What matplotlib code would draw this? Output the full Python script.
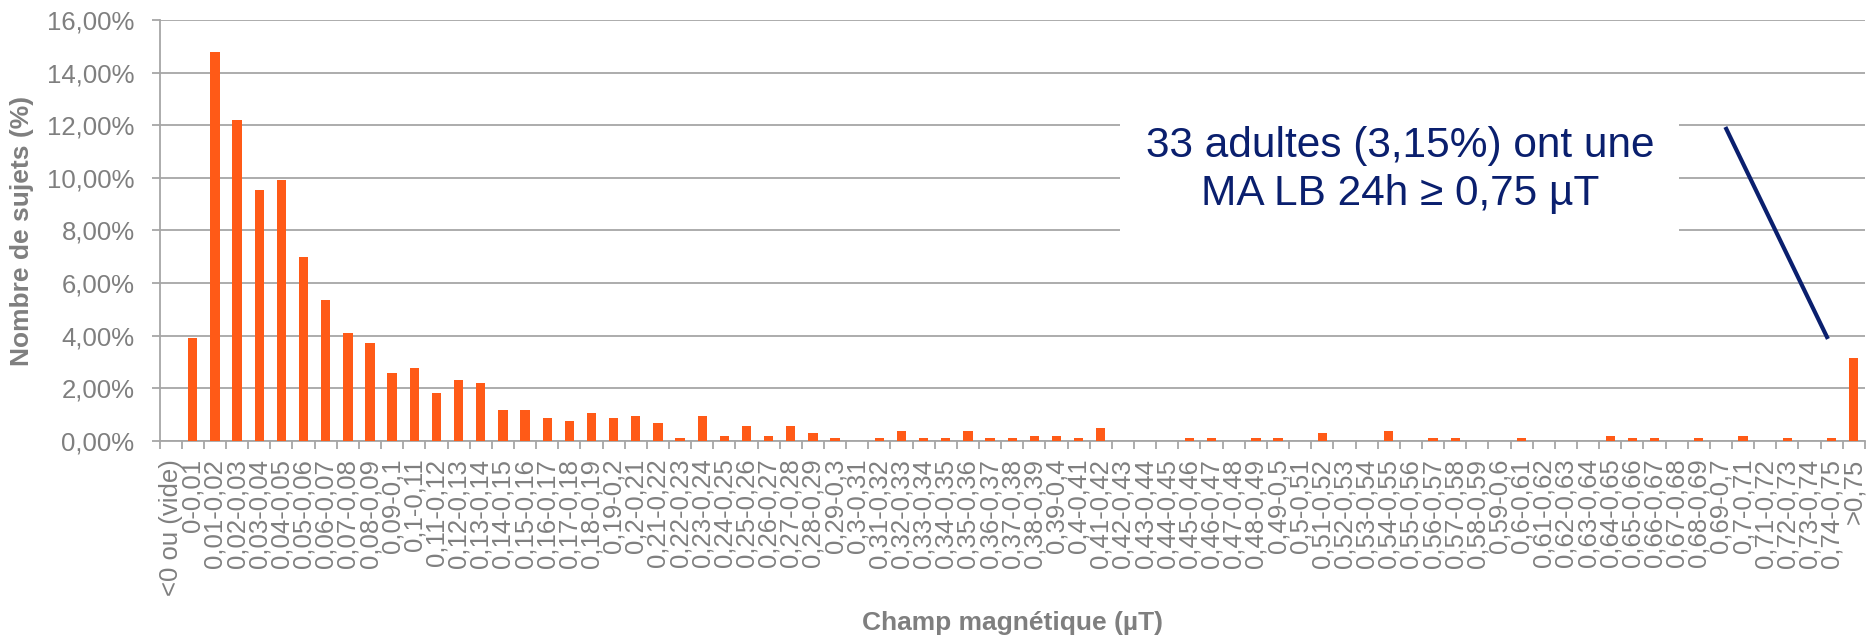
import matplotlib
matplotlib.use("Agg")
import matplotlib.pyplot as plt
from matplotlib.ticker import FuncFormatter, FixedLocator

plt.rcParams['font.family'] = ['Liberation Sans', 'DejaVu Sans']

# categories (µT)
categories = ["<0 ou (vide)", "0-0,01"]
for i in range(1, 75):
    lo = f"{i / 100:g}".replace(".", ",")
    hi = f"{(i + 1) / 100:g}".replace(".", ",")
    categories.append(f"{lo}-{hi}")
categories.append(">0,75")

# share of subjects (%) per category
values = [
    0.00, 3.91, 14.79, 12.21, 9.54, 9.92, 6.97, 5.34, 4.10, 3.72,   # <0 .. 0,08-0,09
    2.58, 2.77, 1.81, 2.29, 2.19, 1.15, 1.15, 0.86, 0.76, 1.05,     # 0,09-0,1 .. 0,18-0,19
    0.86, 0.95, 0.67, 0.10, 0.95, 0.19, 0.57, 0.19, 0.57, 0.29,     # 0,19-0,2 .. 0,28-0,29
    0.10, 0.00, 0.10, 0.38, 0.10, 0.10, 0.38, 0.10, 0.10, 0.19,     # 0,29-0,3 .. 0,38-0,39
    0.19, 0.10, 0.48, 0.00, 0.00, 0.00, 0.10, 0.10, 0.00, 0.10,     # 0,39-0,4 .. 0,48-0,49
    0.10, 0.00, 0.29, 0.00, 0.00, 0.38, 0.00, 0.10, 0.10, 0.00,     # 0,49-0,5 .. 0,58-0,59
    0.00, 0.10, 0.00, 0.00, 0.00, 0.19, 0.10, 0.10, 0.00, 0.10,     # 0,59-0,6 .. 0,68-0,69
    0.00, 0.19, 0.00, 0.10, 0.00, 0.10, 3.15,                       # 0,69-0,7 .. >0,75
]

yticks = [0, 2, 4, 6, 8, 10, 12, 14, 16]

note = "33 adultes (3,15%) ont une\nMA LB 24h \u2265 0,75 \u00b5T"

grey = "#7F7F7F"
line_grey = "#A6A6A6"
bar_color = "#FF5A17"
navy = "#0A1F6E"

fig = plt.figure(figsize=(18.69, 6.37), dpi=100)
ax = fig.add_axes([0.0854, 0.3082, 0.9124, 0.6604])

x = list(range(len(categories)))
ax.bar(x, values, width=0.42, color=bar_color, zorder=3)

ax.set_xlim(-0.5, len(categories) - 0.5)
ax.set_ylim(0, 16)
ax.set_yticks(yticks)
ax.yaxis.set_major_formatter(FuncFormatter(lambda v, p: f"{v:.2f}%".replace(".", ",")))
ax.grid(axis="y", color=line_grey, linewidth=1.3, zorder=0)
ax.set_axisbelow(True)

ax.set_xticks(x)
ax.set_xticklabels(categories, rotation=90, ha="center", va="top")
ax.xaxis.set_minor_locator(FixedLocator([i - 0.5 for i in range(len(categories) + 1)]))
ax.tick_params(axis="x", which="major", length=0, pad=13, labelsize=18.5, labelcolor=grey)
ax.tick_params(axis="x", which="minor", length=6, width=1.3, color=line_grey)
ax.tick_params(axis="y", length=6, width=1.3, color=line_grey, labelsize=18.5, labelcolor=grey, pad=12)

for side in ["top", "right"]:
    ax.spines[side].set_visible(False)
for side in ["left", "bottom"]:
    ax.spines[side].set_color(line_grey)
    ax.spines[side].set_linewidth(1.3)

fig.text(0.0118, 0.638, "Nombre de sujets (%)", rotation=90, ha="center", va="center",
         fontsize=19, fontweight="bold", color=grey)
fig.text(0.5415, 0.011, "Champ magnétique (µT)", ha="center", va="baseline",
         fontsize=19, fontweight="bold", color=grey)

ax.text(55.5, 10.3, note, ha="center", va="center", fontsize=30.5, color=navy,
        linespacing=1.25, zorder=4,
        bbox=dict(facecolor="white", edgecolor="none", boxstyle="square,pad=0.6"))
ax.plot([70.2, 74.83], [11.93, 3.87], color=navy, linewidth=3, zorder=5,
        solid_capstyle="butt")

fig.savefig("out.png", dpi=100)
